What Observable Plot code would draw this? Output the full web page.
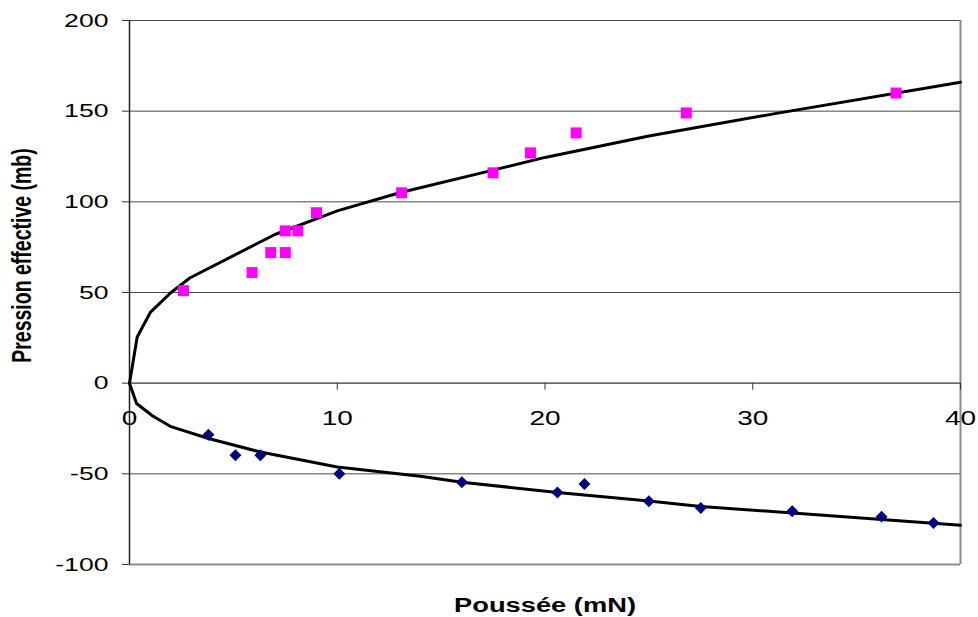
<!DOCTYPE html>
<html>
<head>
<meta charset="utf-8">
<script src="https://cdn.jsdelivr.net/npm/d3@7"></script>
<script src="https://cdn.jsdelivr.net/npm/@observablehq/plot@0.6"></script>
<style>
  html, body { margin: 0; padding: 0; background: #fff; }
  #chart svg { display: block; }
  #chart svg, #chart svg text { font-family: "Liberation Sans", Arial, Helvetica, sans-serif; }
</style>
</head>
<body>
<div id="chart"></div>
<script>
// Measured points (pink squares, positive pressure)
const pinkX = [2.6, 5.9, 6.8, 7.5, 7.5, 8.1, 9.0, 13.1, 17.5, 19.3, 21.5, 26.8, 36.9];
const pinkY = [51, 61, 72, 72, 84, 84, 94, 105, 116, 127, 138, 149, 160];

// Measured points (blue diamonds, negative pressure)
const blueX = [3.8, 5.1, 6.3, 10.1, 16.0, 20.6, 21.9, 25.0, 27.5, 31.9, 36.2, 38.7];
const blueY = [-28.5, -39.7, -39.7, -50, -54.6, -60.3, -55.6, -65.1, -68.8, -70.6, -73.6, -77.1];

// Fitted curves
const upperX = [0, 0.37, 1, 2, 2.9, 7, 10, 13, 17.5, 20, 25, 31, 40];
const upperY = [0, 25.5, 39, 50, 58, 82, 95, 105, 117.5, 124.5, 136.3, 148.5, 166];
const lowerX = [0, 0.34, 1.1, 2, 3.8, 6.3, 10, 14, 16, 20.6, 25, 27.5, 33.4, 40];
const lowerY = [0, -11.2, -18, -24, -30.5, -38, -46.2, -51.3, -54.6, -60.3, -65.0, -68.0, -72.8, -78.4];

// Axis ticks and titles
const xTicks = [0, 10, 20, 30, 40];
const yTicks = [-100, -50, 0, 50, 100, 150, 200];
const xTitle = "Poussée (mN)";
const yTitle = "Pression effective (mb)";

const pink = pinkX.map((x, i) => ({x, y: pinkY[i]}));
const blue = blueX.map((x, i) => ({x, y: blueY[i]}));
const upper = upperX.map((x, i) => ({x, y: upperY[i]}));
const lower = lowerX.map((x, i) => ({x, y: lowerY[i]}));

const chart = Plot.plot({
  width: 978,
  height: 617,
  marginLeft: 129,
  marginRight: 18,
  marginTop: 20,
  marginBottom: 53,
  style: {fontSize: "19px", color: "#000", background: "#fff"},
  x: {domain: [0, 40], axis: null},
  y: {domain: [-100, 200], axis: null},
  marks: [
    Plot.gridY(yTicks, {stroke: "#4a4a4a", strokeOpacity: 1, strokeWidth: 1}),
    Plot.ruleX([40], {stroke: "#8c8c8c", strokeWidth: 2}),
    Plot.ruleY([-100], {stroke: "#8c8c8c", strokeWidth: 2}),
    Plot.ruleY([0], {stroke: "#6a6a6a", strokeWidth: 1.5}),
    Plot.ruleX([0], {stroke: "#222", strokeWidth: 1.5}),
    Plot.axisY(yTicks, {tickSize: 7, tickPadding: 14, label: null, stroke: "#333", fontSize: 19, tickFormat: d => String(d)}),
    Plot.ruleX(xTicks, {x: d => d, y1: 0, y2: -3.9, stroke: "#333", strokeWidth: 1}),
    Plot.text(xTicks, {x: d => d, y: 0, dy: 35, text: d => String(d), fontSize: 20, fill: "#000"}),
    Plot.line(upper, {x: "x", y: "y", stroke: "#000", strokeWidth: 3, curve: "linear"}),
    Plot.line(lower, {x: "x", y: "y", stroke: "#000", strokeWidth: 3, curve: "linear"}),
    Plot.dot(pink, {x: "x", y: "y", symbol: "square", r: 6.2, fill: "#ff00ff", stroke: "none"}),
    Plot.dot(blue, {x: "x", y: "y", symbol: "diamond2", r: 5.4, fill: "#000080", stroke: "none"}),
    Plot.text([yTitle], {frameAnchor: "left", dx: -107, dy: -37, rotate: -90, textAnchor: "middle", lineAnchor: "middle", fontSize: 19.5, fontWeight: "bold", fill: "#000"}),
    Plot.text([xTitle], {frameAnchor: "bottom", dy: 41, textAnchor: "middle", lineAnchor: "middle", fontSize: 19.5, fontWeight: "bold", fill: "#000"})
  ]
});

// The reference text is horizontally stretched; emulate with a scale transform.
chart.querySelectorAll("text").forEach(t => {
  const tr = t.getAttribute("transform") || "";
  if (/rotate\(/.test(tr)) {
    t.setAttribute("transform", tr + " scale(1,1.4)");
  } else if (/translate\(/.test(tr)) {
    t.setAttribute("transform", tr + " scale(1.4,1)");
  } else {
    const x = +t.getAttribute("x") || 0, y = +t.getAttribute("y") || 0;
    t.setAttribute("x", 0); t.setAttribute("y", 0);
    t.setAttribute("transform", `translate(${x},${y}) scale(1.4,1)`);
  }
});

document.getElementById("chart").appendChild(chart);
</script>
</body>
</html>
